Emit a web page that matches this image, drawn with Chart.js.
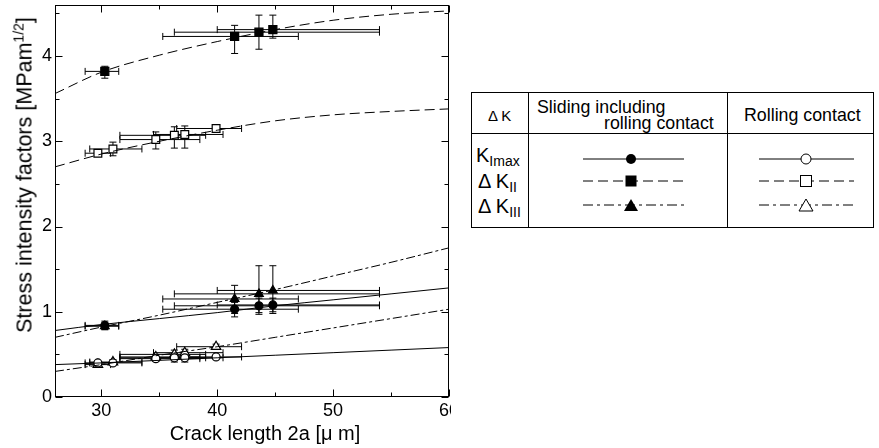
<!DOCTYPE html>
<html>
<head>
<meta charset="utf-8">
<script src="https://cdn.jsdelivr.net/npm/chart.js@4.4.0/dist/chart.umd.min.js"></script>
<style>
  html, body { margin: 0; padding: 0; background: #fff; }
  body { width: 879px; height: 448px; position: relative; overflow: hidden;
         font-family: "Liberation Sans", Arial, sans-serif; color: #000; }
  #chartBox { position: absolute; left: 0; top: 0; width: 451px; height: 448px; overflow: hidden; }
  #sifChart { position: absolute; left: 0; top: -2px; }
  #yTitle { position: absolute; left: 25px; top: 175px; transform: translate(-50%, -50%) rotate(-90deg);
            white-space: nowrap; font-size: 21.5px; }
  #yTitle sup { font-size: 14px; vertical-align: 8px; line-height: 0; }
  #xTitle { position: absolute; left: 265px; top: 433px; transform: translate(-50%, -50%);
            white-space: nowrap; font-size: 20px; line-height: 20px; }
  #key { position: absolute; left: 471px; top: 92px; width: 403px; height: 136px;
         box-sizing: border-box; border: 1px solid #000; }
  #key .rule { position: absolute; background: #000; }
  #key .txt { position: absolute; white-space: nowrap; }
  #key .big { font-size: 20px; line-height: 20px; }
  #key .big sub { font-size: 14px; vertical-align: -4px; line-height: 0; }
  #key .hd { font-size: 17.8px; line-height: 18px; }
  #key svg { position: absolute; left: 0; top: 0; }
</style>
</head>
<body>
<div id="chartBox"><canvas id="sifChart" width="460" height="450"></canvas></div>
<div id="yTitle">Stress intensity factors [MPam<sup>1/2</sup>]</div>
<div id="xTitle">Crack length 2a [&mu; m]</div>

<div id="key">
  <div class="rule" style="left:0; top:40px; width:401px; height:1px;"></div>
  <div class="rule" style="left:56px; top:0; width:1px; height:134px;"></div>
  <div class="rule" style="left:255px; top:0; width:1px; height:134px;"></div>
  <div class="txt" style="left:16px; top:15px; font-size:15px; line-height:15px;">&Delta; K</div>
  <div class="txt hd" style="left:65px; top:5px;">Sliding including</div>
  <div class="txt hd" style="left:132px; top:21px;">rolling contact</div>
  <div class="txt hd" style="left:272px; top:13px;">Rolling contact</div>
  <div class="txt big" style="left:4px; top:52px;">K<sub>Imax</sub></div>
  <div class="txt big" style="left:6px; top:78px;">&Delta; K<sub>II</sub></div>
  <div class="txt big" style="left:6px; top:103px;">&Delta; K<sub>III</sub></div>
  <svg width="401" height="134">
    <g stroke="#000" stroke-width="1" fill="none">
      <line x1="111" y1="66" x2="212" y2="66"/>
      <line x1="111" y1="88" x2="212" y2="88" stroke-dasharray="10 5"/>
      <line x1="111" y1="112" x2="212" y2="112" stroke-dasharray="10 4 3 4"/>
      <line x1="287" y1="66" x2="382" y2="66"/>
      <line x1="287" y1="88" x2="382" y2="88" stroke-dasharray="10 5"/>
      <line x1="287" y1="112" x2="382" y2="112" stroke-dasharray="10 4 3 4"/>
    </g>
    <circle cx="159" cy="66" r="5" fill="#000"/>
    <rect x="153.5" y="82.5" width="11" height="11" fill="#000"/>
    <polygon points="159,106 166,118 152,118" fill="#000"/>
    <circle cx="334" cy="66" r="5" fill="#fff" stroke="#000"/>
    <rect x="328.5" y="82.5" width="11" height="11" fill="#fff" stroke="#000"/>
    <polygon points="334,106 341,118 327,118" fill="#fff" stroke="#000"/>
  </svg>
</div>

<script>
// ---- axis ticks ----
const xTickLabels = [30, 40, 50, 60];
const xMinorTicks = [35, 45, 55];
const yTickLabels = [0, 1, 2, 3, 4];
const yMinorTicks = [0.5, 1.5, 2.5, 3.5, 4.5];

// ---- sliding including rolling contact (filled markers) ----
const slidingX = [30.3, 41.5, 43.6, 44.8];
const slidingXErr = [[28.6, 31.5], [35.3, 47.0], [36.3, 54.0], [40.0, 54.0]];
const kImaxSliding = [0.84, 1.03, 1.07, 1.08];
const kImaxSlidingErr = [[0.79, 0.89], [0.94, 1.11], [0.97, 1.16], [0.98, 1.16]];
const kIISliding = [3.82, 4.23, 4.28, 4.31];
const kIISlidingErr = [[3.74, 3.88], [4.03, 4.36], [4.08, 4.48], [4.21, 4.48]];
const kIIISliding = [0.83, 1.15, 1.21, 1.25];
const kIIISlidingErr = [[0.79, 0.87], [0.98, 1.31], [0.99, 1.54], [1.00, 1.54]];

// ---- rolling contact (open markers) ----
const rollingX = [29.7, 31.0, 34.7, 36.3, 37.2, 39.9];
const rollingXErr = [[28.6, 30.8], [29.0, 33.5], [31.6, 38.5], [31.6, 39.0], [34.5, 40.5], [36.5, 42.1]];
const kImaxRolling = [0.40, 0.40, 0.45, 0.46, 0.46, 0.47];
const kImaxRollingErr = [[0.38, 0.42], [0.38, 0.42], [0.42, 0.49], [0.41, 0.51], [0.41, 0.51], [0.45, 0.49]];
const kIIRolling = [2.86, 2.91, 3.02, 3.07, 3.08, 3.15];
const kIIRollingErr = [[2.83, 2.89], [2.83, 2.99], [2.91, 3.11], [2.92, 3.17], [2.92, 3.18], [3.12, 3.17]];
const kIIIRolling = [0.38, 0.41, 0.47, 0.50, 0.52, 0.59];
const kIIIRollingErr = [[0.36, 0.40], [0.38, 0.44], [0.44, 0.50], [0.45, 0.55], [0.46, 0.56], [0.56, 0.62]];

// ---- fitted curves ----
const fitX = [26, 30, 35, 40, 45, 50, 55, 60];
const kIISlidingFit = [3.56, 3.81, 4.01, 4.17, 4.31, 4.42, 4.49, 4.53];
const kIIRollingFit = [2.70, 2.85, 3.00, 3.13, 3.24, 3.31, 3.35, 3.38];
const kImaxSlidingFit = [0.78, 0.85, 0.92, 0.99, 1.07, 1.14, 1.21, 1.28];
const kIIISlidingFit = [0.70, 0.82, 0.96, 1.11, 1.26, 1.42, 1.58, 1.75];
const kImaxRollingFit = [0.38, 0.40, 0.43, 0.46, 0.49, 0.52, 0.55, 0.58];
const kIIIRollingFit = [0.30, 0.38, 0.49, 0.59, 0.70, 0.81, 0.92, 1.03];

const FONT = '"Liberation Sans", Arial, sans-serif';
const DASH = [10, 5];
const DASH_DOT = [9, 3, 3, 3];

function zip(xs, ys) {
    return xs.map((x, i) => ({ x: x, y: ys[i] }));
}

function fitLine(ys, dash) {
    return {
        data: zip(fitX, ys),
        showLine: true,
        borderColor: '#000',
        borderWidth: 1,
        borderDash: dash,
        pointRadius: 0,
        cubicInterpolationMode: 'monotone'
    };
}

function points(xs, ys, errX, errY, style, radius, filled) {
    return {
        data: zip(xs, ys),
        errX: errX,
        errY: errY,
        showLine: false,
        pointStyle: style,
        pointRadius: radius,
        pointBackgroundColor: filled ? '#000' : '#fff',
        pointBorderColor: '#000',
        pointBorderWidth: 1.2
    };
}

// error bars, drawn under the markers
const errorBars = {
    id: 'errorBars',
    beforeDatasetsDraw(chart) {
        const { ctx, chartArea: a, scales: { x, y } } = chart;
        ctx.save();
        ctx.beginPath();
        ctx.rect(a.left, a.top, a.width, a.height);
        ctx.clip();
        ctx.strokeStyle = '#000';
        ctx.lineWidth = 1;
        const cap = 3.5;
        chart.data.datasets.forEach(ds => {
            if (!ds.errX) return;
            ds.data.forEach((pt, i) => {
                const px = x.getPixelForValue(pt.x);
                const py = y.getPixelForValue(pt.y);
                const x0 = x.getPixelForValue(ds.errX[i][0]);
                const x1 = x.getPixelForValue(ds.errX[i][1]);
                const y0 = y.getPixelForValue(ds.errY[i][0]);
                const y1 = y.getPixelForValue(ds.errY[i][1]);
                ctx.beginPath();
                ctx.moveTo(x0, py); ctx.lineTo(x1, py);
                ctx.moveTo(x0, py - cap); ctx.lineTo(x0, py + cap);
                ctx.moveTo(x1, py - cap); ctx.lineTo(x1, py + cap);
                ctx.moveTo(px, y0); ctx.lineTo(px, y1);
                ctx.moveTo(px - cap, y0); ctx.lineTo(px + cap, y0);
                ctx.moveTo(px - cap, y1); ctx.lineTo(px + cap, y1);
                ctx.stroke();
            });
        });
        ctx.restore();
    }
};

// box frame with inward ticks on all four sides
const frameTicks = {
    id: 'frameTicks',
    afterDraw(chart) {
        const { ctx, chartArea: a, scales: { x, y } } = chart;
        const L = Math.round(a.left) + 0.5, R = Math.round(a.right) - 0.5;
        const T = Math.round(a.top) + 0.5, B = Math.round(a.bottom) - 0.5;
        ctx.save();
        ctx.strokeStyle = '#000';
        ctx.lineWidth = 1;
        ctx.strokeRect(L, T, R - L, B - T);
        ctx.beginPath();
        const xt = (v, len) => {
            const p = Math.round(x.getPixelForValue(v)) + 0.5;
            ctx.moveTo(p, B); ctx.lineTo(p, B - len);
            ctx.moveTo(p, T); ctx.lineTo(p, T + len);
        };
        const yt = (v, len) => {
            const p = Math.round(y.getPixelForValue(v)) + 0.5;
            ctx.moveTo(L, p); ctx.lineTo(L + len, p);
            ctx.moveTo(R, p); ctx.lineTo(R - len, p);
        };
        xTickLabels.forEach(v => xt(v, 7));
        xMinorTicks.forEach(v => xt(v, 4));
        yTickLabels.forEach(v => yt(v, 7));
        yMinorTicks.forEach(v => yt(v, 4));
        ctx.stroke();
        ctx.restore();
    }
};

const datasets = [
    fitLine(kIISlidingFit, DASH),
    fitLine(kIIRollingFit, DASH),
    fitLine(kImaxSlidingFit, []),
    fitLine(kIIISlidingFit, DASH_DOT),
    fitLine(kImaxRollingFit, []),
    fitLine(kIIIRollingFit, DASH_DOT),
    points(rollingX, kImaxRolling, rollingXErr, kImaxRollingErr, 'circle', 4, false),
    points(rollingX, kIIIRolling, rollingXErr, kIIIRollingErr, 'triangle', 5.5, false),
    points(rollingX, kIIRolling, rollingXErr, kIIRollingErr, 'rect', 5.5, false),
    points(slidingX, kImaxSliding, slidingXErr, kImaxSlidingErr, 'circle', 4, true),
    points(slidingX, kIIISliding, slidingXErr, kIIISlidingErr, 'triangle', 5, true),
    points(slidingX, kIISliding, slidingXErr, kIISlidingErr, 'rect', 5.7, true)
];

// canvas sits 2px above the page top, so the plot spans page y 3..397
new Chart(document.getElementById('sifChart'), {
    type: 'scatter',
    data: { datasets: datasets },
    options: {
        responsive: false,
        animation: false,
        layout: { padding: { top: 0, right: 11, left: 0, bottom: 0 } },
        plugins: { legend: { display: false }, tooltip: { enabled: false } },
        scales: {
            x: {
                type: 'linear',
                min: 26,
                max: 60,
                grid: { display: false, drawTicks: false },
                border: { display: false },
                afterBuildTicks: s => { s.ticks = xTickLabels.map(v => ({ value: v })); },
                afterFit: s => { s.height = 51; s.paddingLeft = 0; s.paddingRight = 0; },
                ticks: { color: '#000', font: { size: 18, family: FONT }, padding: 3, maxRotation: 0, autoSkip: false }
            },
            y: {
                type: 'linear',
                min: 0,
                max: 4.6,
                grid: { display: false, drawTicks: false },
                border: { display: false },
                afterBuildTicks: s => { s.ticks = yTickLabels.map(v => ({ value: v })); },
                afterFit: s => { s.width = 55; s.paddingTop = 0; s.paddingBottom = 0; },
                ticks: { color: '#000', font: { size: 18, family: FONT }, padding: 3, autoSkip: false }
            }
        }
    },
    plugins: [errorBars, frameTicks]
});
</script>
</body>
</html>
